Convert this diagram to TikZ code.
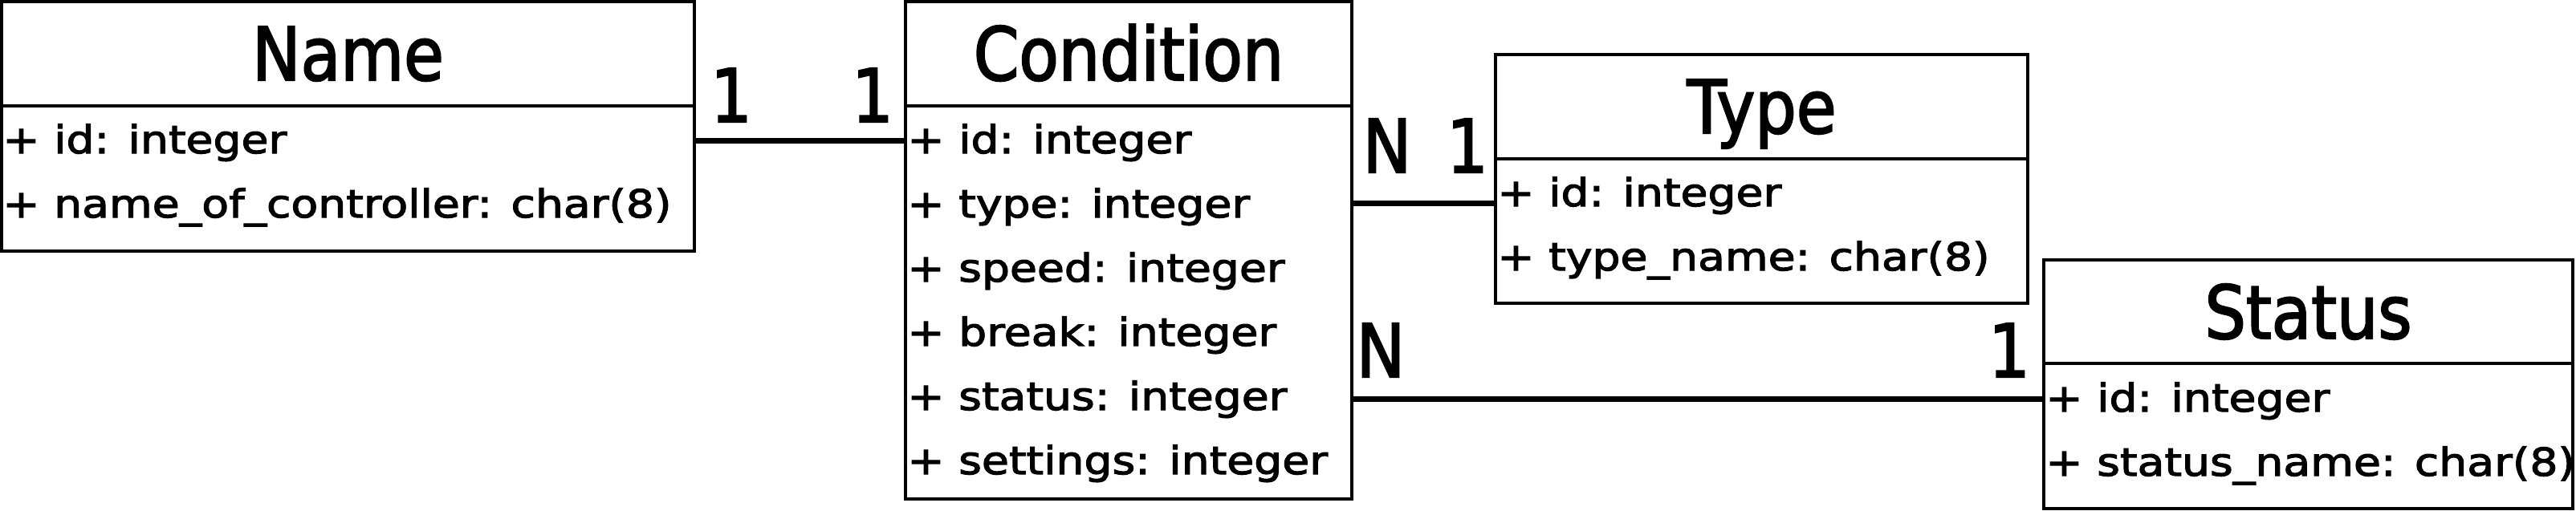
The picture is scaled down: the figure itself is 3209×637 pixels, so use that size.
\documentclass[tikz,border=0pt]{standalone}
\usepackage{fontspec}
\setmainfont{DejaVu Sans}
\newfontfamily\bodyfont{DejaVu Sans}[FakeStretch=1.15,FakeBold=2.5]
\newfontfamily\titlefont{DejaVu Sans}[FakeStretch=0.88,FakeBold=2.2]
\usetikzlibrary{fit}
\begin{document}
\begin{tikzpicture}[x=0.5pt,y=-0.5pt,
  tbox/.style={draw=black, line width=1.8pt, inner sep=0pt, rectangle},
  ttl/.style={anchor=base, inner sep=0pt, font=\titlefont\fontsize{46}{50}\selectfont},
  row/.style={anchor=base west, inner sep=0pt, font=\bodyfont\fontsize{24}{28}\selectfont},
  mult/.style={anchor=base, inner sep=0pt, font=\titlefont\fontsize{46}{50}\selectfont},
  conn/.style={draw=black, line width=3.5pt}]
\useasboundingbox (0,0) rectangle (3209,637);
\fill[white] (0,0) rectangle (3209,637);

% Name
\node[tbox, fit={(2,2) (865,132)}] (nameH) {};
\node[tbox, fit={(2,132) (865,313)}] (nameB) {};
\node[ttl] (nameT) at (433.5,100) {Name};
\node[row] (nameR1) at (3,191) {+ id: integer};
\node[row] (nameR2) at (3,271) {+ name\_of\_controller: char(8)};

% Condition
\node[tbox, fit={(1128,2) (1684,132)}] (condH) {};
\node[tbox, fit={(1128,132) (1684,622)}] (condB) {};
\node[ttl] (condT) at (1406,100) {Condition};
\node[row] (condR1) at (1130,191) {+ id: integer};
\node[row] (condR2) at (1130,271) {+ type: integer};
\node[row] (condR3) at (1130,351) {+ speed: integer};
\node[row] (condR4) at (1130,431) {+ break: integer};
\node[row] (condR5) at (1130,511) {+ status: integer};
\node[row] (condR6) at (1130,591) {+ settings: integer};

% Type
\node[tbox, fit={(1863,68) (2526,198)}] (typeH) {};
\node[tbox, fit={(1863,198) (2526,378)}] (typeB) {};
\node[ttl] (typeT) at (2194.5,166) {Type};
\node[row] (typeR1) at (1865,257) {+ id: integer};
\node[row] (typeR2) at (1865,337) {+ type\_name: char(8)};

% Status
\node[tbox, fit={(2546,324) (3205,453)}] (statH) {};
\node[tbox, fit={(2546,453) (3205,634)}] (statB) {};
\node[ttl] (statT) at (2875.5,422) {Status};
\node[row] (statR1) at (2548,513) {+ id: integer};
\node[row] (statR2) at (2548,593) {+ status\_name: char(8)};

% connector heights
\coordinate (y1) at (0,175.5);
\coordinate (y2) at (0,253);
\coordinate (y3) at (0,497);

\draw[conn] (nameB.east |- y1) -- (condB.west |- y1);
\draw[conn] (condB.east |- y2) -- (typeB.west |- y2);
\draw[conn] (condB.east |- y3) -- (statB.west |- y3);

% multiplicities
\node[mult] (m1) at (911,152) {1};
\node[mult] (m2) at (1087,152) {1};
\node[mult] (m3) at (1728,215) {N};
\node[mult] (m4) at (1828,215) {1};
\node[mult] (m5) at (1720,470) {N};
\node[mult] (m6) at (2503,470) {1};
\end{tikzpicture}
\end{document}
